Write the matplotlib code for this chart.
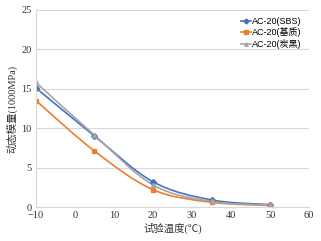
import numpy as np
import matplotlib.pyplot as plt
from matplotlib.path import Path
from matplotlib.patches import PathPatch

plt.rcParams['font.family'] = ['Liberation Serif', 'Noto Sans CJK SC']

temps = [-10, 5, 20, 35, 50]
sbs = [15.1, 9.0, 3.2, 0.9, 0.3]
base = [13.5, 7.1, 2.2, 0.6, 0.2]
coal = [15.8, 9.1, 2.8, 0.7, 0.25]

labels = ['AC-20(SBS)', 'AC-20(基质)', 'AC-20(炭黑)']
colors = ['#4472C4', '#ED7D31', '#A5A5A5']
markers = ['D', 's', '^']


def smooth_path(x, y, t=1 / 6):
    # Excel-style smoothed line: cubic Bezier through each point
    x = np.asarray(x, float)
    y = np.asarray(y, float)
    verts = [(x[0], y[0])]
    codes = [Path.MOVETO]
    n = len(x)
    for i in range(n - 1):
        p0 = (x[max(i - 1, 0)], y[max(i - 1, 0)])
        p1 = (x[i], y[i])
        p2 = (x[i + 1], y[i + 1])
        p3 = (x[min(i + 2, n - 1)], y[min(i + 2, n - 1)])
        c1 = (p1[0] + (p2[0] - p0[0]) * t, p1[1] + (p2[1] - p0[1]) * t)
        c2 = (p2[0] - (p3[0] - p1[0]) * t, p2[1] - (p3[1] - p1[1]) * t)
        verts += [c1, c2, p2]
        codes += [Path.CURVE4] * 3
    return Path(verts, codes)


fig = plt.figure(figsize=(3.21, 2.41), dpi=100)
ax = fig.add_axes([0.112, 0.141, 0.851, 0.818])

for vals, lab, c, m in zip([sbs, base, coal], labels, colors, markers):
    ax.add_patch(PathPatch(smooth_path(temps, vals), fill=False, edgecolor=c, lw=1.2))
    ax.plot(temps, vals, ls='none', marker=m, color=c, ms=3)
    ax.plot([], [], color=c, marker=m, ms=2.5, lw=1.2, label=lab)

ax.set_xlim(-10, 60)
ax.set_ylim(0, 25)
ax.set_xticks(range(-10, 61, 10))
ax.set_yticks(range(0, 26, 5))
ax.grid(axis='y', color='#D9D9D9', lw=0.8)
ax.set_axisbelow(True)
for s in ['top', 'right']:
    ax.spines[s].set_visible(False)
for s in ['left', 'bottom']:
    ax.spines[s].set_color('#D9D9D9')
ax.tick_params(length=0, labelsize=7.5, pad=3, labelcolor='#333333')
ax.set_xlabel('试验温度(℃)', fontsize=7.5, labelpad=2, color='#333333')
ax.set_ylabel('动态模量(1000MPa)', fontsize=7.5, labelpad=3, color='#333333')
ax.legend(loc='upper right', frameon=False, handlelength=1.1,
          handletextpad=0.2, labelspacing=0.15, borderaxespad=0.4,
          prop={'family': ['Liberation Sans Narrow', 'Liberation Sans', 'Noto Sans CJK SC'], 'size': 6.5})

fig.savefig('out.png', dpi=100)
